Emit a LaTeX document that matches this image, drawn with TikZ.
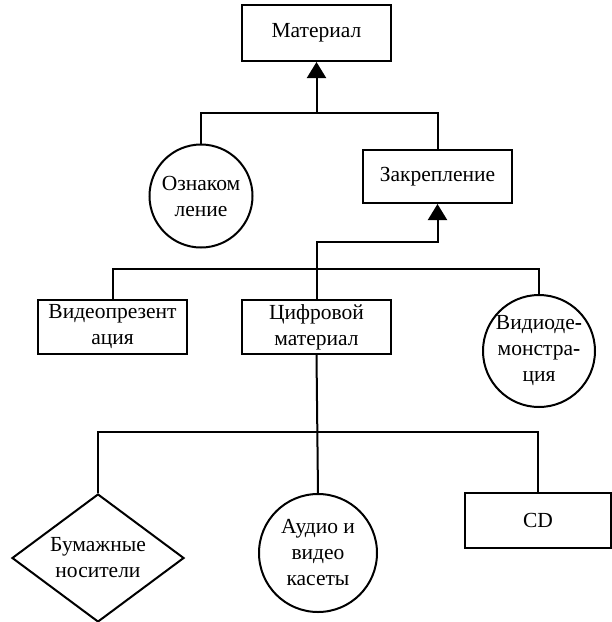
\documentclass[tikz,border=0pt]{standalone}
\usepackage{fontspec}
\setmainfont{Liberation Serif}
\newfontfamily\diagfont{Liberation Serif}
\usetikzlibrary{arrows.meta,shapes.geometric}
\begin{document}
\begin{tikzpicture}[x=1pt,y=-1pt,
  every node/.style={font=\diagfont\fontsize{21.5}{26}\selectfont, align=center, inner sep=0pt},
  link/.style={line width=2pt},
  boxnode/.style={draw, link, rectangle, minimum width=149pt, minimum height=54pt},
  circnode/.style={draw, link, circle},
  rhombnode/.style={draw, link, diamond, shape aspect=1.34},
  arrowlink/.style={link, -{Triangle[width=19pt,length=16pt]}}]
\useasboundingbox (0,0) rectangle (612,622);

\node[boxnode, minimum height=56pt] (mat) at (316.5,33) {Материал};
\node[circnode, minimum size=103pt] (ozn) at (201,196) {Ознаком\\ление};
\node[boxnode, minimum height=53pt] (zak) at (437.5,176.5) {Закрепление};
\node[boxnode] (vp) at (112.5,327) {Видеопрезент\\ация};
\node[boxnode] (cif) at (316.5,327) {Цифровой\\материал};
\node[circnode, minimum size=112pt] (vd) at (539,351) {Видиоде\textbf{-}\\монстра\textbf{-}\\ция};
\node[rhombnode, minimum width=172pt, minimum height=128pt] (bum) at (98,558) {Бумажные\\носители};
\node[circnode, minimum size=118pt] (aud) at (318,553) {Аудио и\\видео\\касеты};
\node[boxnode, minimum width=146pt, minimum height=55pt] (cd) at (538,520.5) {CD};

\coordinate (j1) at (316.5,113);
\coordinate (j2) at (316.5,242);
\coordinate (j3) at (316.5,269);
\coordinate (j4) at (316.5,432);

\draw[link] (ozn.north) |- (j1);
\draw[link] (zak.north) |- (j1);
\draw[arrowlink] (j1) -- (mat.south);
\draw[arrowlink] (cif.north) |- (j2) -| (zak.south);
\draw[link] (vp.north) |- (j3) -| (vd.north);
\draw[link] (bum.north) |- (j4) -| (cd.north);
\draw[link] (cif.south) -- (aud.north);
\end{tikzpicture}
\end{document}
